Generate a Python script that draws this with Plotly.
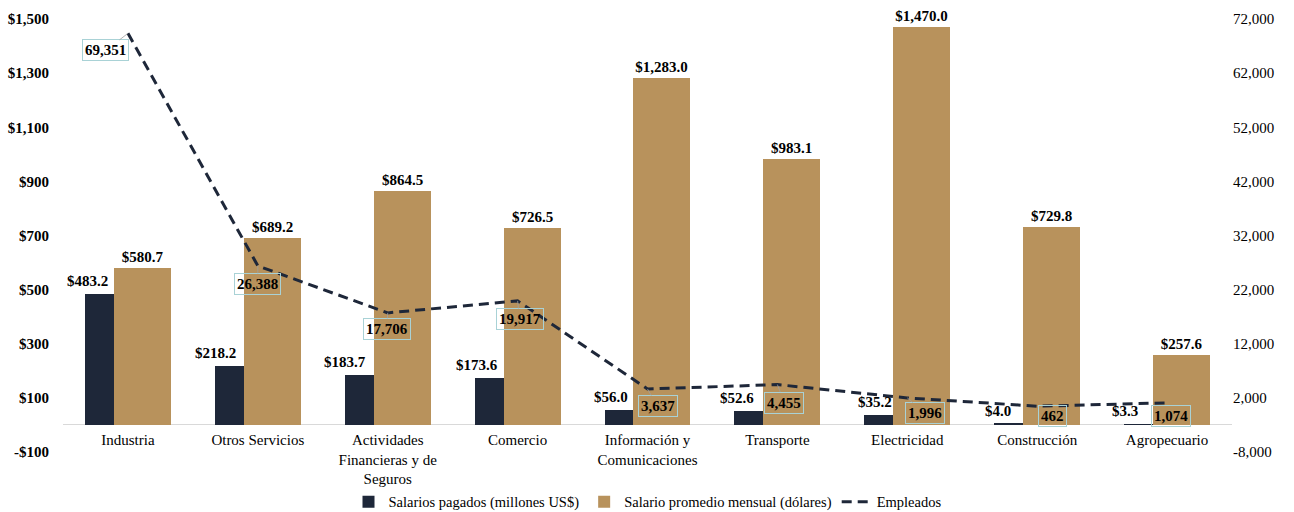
import plotly.graph_objects as go

categories = ["Industria", "Otros Servicios", "Actividades<br>Financieras y de<br>Seguros",
              "Comercio", "Información y<br>Comunicaciones", "Transporte",
              "Electricidad", "Construcción", "Agropecuario"]
salarios_pagados = [483.2, 218.2, 183.7, 173.6, 56.0, 52.6, 35.2, 4.0, 3.3]
salario_promedio = [580.7, 689.2, 864.5, 726.5, 1283.0, 983.1, 1470.0, 729.8, 257.6]
empleados = [69351, 26388, 17706, 19917, 3637, 4455, 1996, 462, 1074]

left_ticks = [-100, 100, 300, 500, 700, 900, 1100, 1300, 1500]
left_ticktext = ["-$100", "$100", "$300", "$500", "$700", "$900", "$1,100", "$1,300", "$1,500"]
right_ticks = [-8000, 2000, 12000, 22000, 32000, 42000, 52000, 62000, 72000]
right_ticktext = ["-8,000", "2,000", "12,000", "22,000", "32,000", "42,000", "52,000", "62,000", "72,000"]

# label offsets (pixels)
pagados_dx = [-18, -20, -20, -18, -18, -21, -13, -24, -27]
label_dx = [-22, 0, -1, 2, 10, 7, 18, 15, 4]
label_dy = [17, 18, 16, 18, 17, 18, 15, 10, 13]

DARK = "#1e2739"
GOLD = "#b8925c"
FONT = "Liberation Serif"

fig = go.Figure()
fig.add_trace(go.Bar(
    x=categories, y=salarios_pagados, name="Salarios pagados (millones US$)",
    marker=dict(color=DARK, line=dict(width=0)), offset=-0.331, width=0.223,
))
fig.add_trace(go.Bar(
    x=categories, y=salario_promedio, name="Salario promedio mensual (dólares)",
    marker=dict(color=GOLD, line=dict(width=0)), offset=-0.108, width=0.439,
    texttemplate="$%{y:,.1f}", textposition="outside", constraintext="none",
    cliponaxis=False,
    textfont=dict(family=FONT, size=15, color="black", weight="bold"),
))
fig.add_trace(go.Scatter(
    x=categories, y=empleados, name="Empleados", yaxis="y2", mode="lines",
    line=dict(color=DARK, width=3, dash="10px,6px"), cliponaxis=False,
))

annotations = []
for c, v, dx in zip(categories, salarios_pagados, pagados_dx):
    annotations.append(dict(
        x=c, y=v, xref="x", yref="y", text=f"${v:,.1f}", showarrow=False,
        xanchor="right", yanchor="bottom", xshift=dx, yshift=3,
        font=dict(family=FONT, size=15, color="black", weight="bold"),
    ))
for c, v, dx, dy in zip(categories, empleados, label_dx, label_dy):
    annotations.append(dict(
        x=c, y=v, xref="x", yref="y2", text=f"{v:,}", showarrow=True,
        ax=dx, ay=dy, arrowhead=0, arrowwidth=0.8, arrowcolor="#a0a0a0", standoff=0,
        bordercolor="#a9d2d6", borderwidth=1, borderpad=2, bgcolor="rgba(0,0,0,0)",
        font=dict(family=FONT, size=15, color="black", weight="bold"),
    ))

fig.update_layout(
    width=1294, height=512,
    margin=dict(l=63, r=62, t=19, b=60, autoexpand=False),
    paper_bgcolor="white", plot_bgcolor="white",
    barmode="overlay", bargap=0,
    font=dict(family=FONT, size=15, color="black"),
    showlegend=True,
    legend=dict(orientation="h", x=0.5, xanchor="center", y=-0.115, yanchor="middle",
                font=dict(family=FONT, size=14.5, color="black"), bgcolor="rgba(0,0,0,0)"),
    xaxis=dict(
        showgrid=False, showline=False, zeroline=False, automargin=False,
        anchor="free", position=(452 - 424) / 433,
        ticks="outside", ticklen=2, tickcolor="rgba(0,0,0,0)",
        tickfont=dict(family=FONT, size=15, color="black"),
    ),
    yaxis=dict(
        range=[-100, 1500], tickvals=left_ticks, ticktext=left_ticktext, automargin=False,
        showgrid=False, showline=False, zeroline=True, zerolinecolor="#d9d9d9", zerolinewidth=1,
        ticks="outside", ticklen=10, tickcolor="rgba(0,0,0,0)",
        tickfont=dict(family=FONT, size=15, color="black", weight="bold"),
    ),
    yaxis2=dict(
        range=[-8000, 72000], tickvals=right_ticks, ticktext=right_ticktext, automargin=False,
        overlaying="y", side="right", showgrid=False, showline=False, zeroline=False,
        ticks="",
        tickfont=dict(family=FONT, size=15, color="black"),
    ),
    annotations=annotations,
)

fig.write_html("out.html", config={"displayModeBar": False},
               post_script="document.body.style.margin='0px';")
